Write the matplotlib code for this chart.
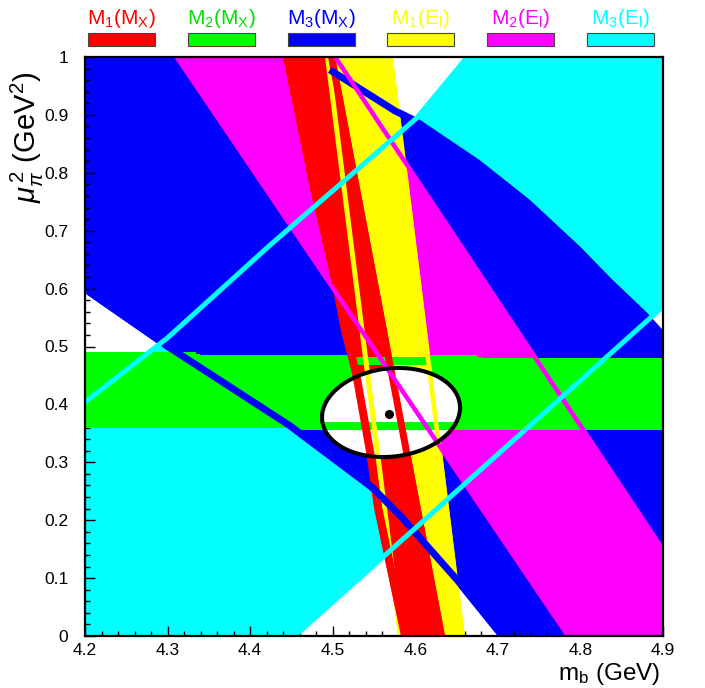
import numpy as np
import matplotlib
matplotlib.use('Agg')
import matplotlib.pyplot as plt
from matplotlib.patches import Polygon, Rectangle
from matplotlib.ticker import MultipleLocator, FixedLocator, FixedFormatter
from matplotlib.transforms import offset_copy

plt.rcParams['font.family'] = ['Liberation Sans', 'DejaVu Sans']
plt.rcParams['mathtext.fontset'] = 'custom'
plt.rcParams['mathtext.rm'] = 'Liberation Sans'
plt.rcParams['mathtext.it'] = 'Liberation Sans:italic'

# ---------------- data (mb in GeV, mu_pi^2 in GeV^2) ----------------
# M3(El) cyan band: upper-left edge and lower-right edge
m3el_a_m = [4.200, 4.300, 4.424, 4.602, 4.663]
m3el_a_mu = [0.404, 0.515, 0.675, 0.895, 1.000]
m3el_b_m = [4.454, 4.900]
m3el_b_mu = [0.000, 0.569]

# M3(Mx) blue band: upper-right edge and lower-left edge
m3mx_c_m = [4.499, 4.578, 4.602, 4.678, 4.739, 4.800, 4.839, 4.881, 4.900]
m3mx_c_mu = [0.983, 0.912, 0.895, 0.822, 0.753, 0.672, 0.615, 0.558, 0.528]
m3mx_d_m = [4.200, 4.299, 4.445, 4.545, 4.581, 4.648, 4.700]
m3mx_d_mu = [0.592, 0.494, 0.359, 0.252, 0.200, 0.092, 0.000]

# M2(El) magenta band: left and right edges
m2el_l_m = [4.311, 4.785]
m2el_l_mu = [1.000, 0.000]
m2el_r_m = [4.503, 4.900]
m2el_r_mu = [1.000, 0.149]

# M2(Mx) green band: top and bottom edges
m2mx_t_m = [4.200, 4.334, 4.334, 4.675, 4.675, 4.900]
m2mx_t_mu = [0.490, 0.490, 0.485, 0.485, 0.480, 0.480]
m2mx_b_m = [4.200, 4.457, 4.457, 4.900]
m2mx_b_mu = [0.360, 0.360, 0.356, 0.356]

# M1(El) yellow band: left and right edges
m1el_l_m = [4.4907, 4.5792]
m1el_l_mu = [1.000, 0.000]
m1el_r_m = [4.5730, 4.6602]
m1el_r_mu = [1.000, 0.000]

# M1(Mx) red band: left and right edges
m1mx_l_m = [4.4398, 4.4725, 4.4991, 4.5100, 4.5234, 4.5415, 4.5500, 4.5827]
m1mx_l_mu = [1.000, 0.7737, 0.6097, 0.5285, 0.4542, 0.3092, 0.2228, 0.000]
m1mx_r_m = [4.5028, 4.6360]
m1mx_r_mu = [1.000, 0.000]

# fit result: central value and 1-sigma ellipse
fit_mb, fit_mu = 4.568, 0.3834
ell_mb, ell_mu = 4.5706, 0.386
ell_smb, ell_smu, ell_rho = 0.0836, 0.0769, 0.11

legend_labels = [r'$\mathregular{M_1(M_X)}$', r'$\mathregular{M_2(M_X)}$', r'$\mathregular{M_3(M_X)}$',
                 r'$\mathregular{M_1(E_l)}$', r'$\mathregular{M_2(E_l)}$', r'$\mathregular{M_3(E_l)}$']
legend_colors = ['#ff0000', '#00ff00', '#0000ff', '#ffff00', '#ff00ff', '#00ffff']
legend_text_colors = ['#ff0000', '#00e000', '#0000ff', '#ffff00', '#ff00ff', '#00ffff']

xticks = [4.2, 4.3, 4.4, 4.5, 4.6, 4.7, 4.8, 4.9]
xticklabels = ['4.2', '4.3', '4.4', '4.5', '4.6', '4.7', '4.8', '4.9']
yticks = [0, 0.1, 0.2, 0.3, 0.4, 0.5, 0.6, 0.7, 0.8, 0.9, 1.0]
yticklabels = ['0', '0.1', '0.2', '0.3', '0.4', '0.5', '0.6', '0.7', '0.8', '0.9', '1']

XMIN, XMAX, YMIN, YMAX = 4.2, 4.9, 0.0, 1.0

# ---------------- figure ----------------
W, H = 705, 688
fig = plt.figure(figsize=(W / 100, H / 100), dpi=100)
ax = fig.add_axes([85 / W, 52 / H, 578 / W, 579 / H])
ax.set_xlim(XMIN, XMAX)
ax.set_ylim(YMIN, YMAX)


def pts(ms, mus):
    return list(zip(ms, mus))


def fill(poly, color, z):
    ax.add_patch(Polygon(poly, closed=True, facecolor=color, edgecolor='none', zorder=z))


# cyan band: between A and B
cyan_poly = pts(m3el_a_m, m3el_a_mu) + [(XMAX, YMAX)] + pts(m3el_b_m[::-1], m3el_b_mu[::-1]) + [(XMIN, YMIN)]
fill(cyan_poly, '#00ffff', 1)

# blue band: between C and D
blue_poly = [(XMIN, YMAX), (m3mx_c_m[0], YMAX)] + pts(m3mx_c_m, m3mx_c_mu) + [(XMAX, YMIN)] + \
    pts(m3mx_d_m[::-1], m3mx_d_mu[::-1])
fill(blue_poly, '#0000ff', 2)

# magenta band
mag_poly = pts(m2el_l_m, m2el_l_mu)[:1] + pts(m2el_r_m, m2el_r_mu) + [(XMAX, YMIN)] + pts(m2el_l_m, m2el_l_mu)[1:]
fill(mag_poly, '#ff00ff', 3)

# green band
green_poly = pts(m2mx_t_m, m2mx_t_mu) + pts(m2mx_b_m[::-1], m2mx_b_mu[::-1])
fill(green_poly, '#00ff00', 4)

# yellow band
yel_poly = pts(m1el_l_m, m1el_l_mu) + pts(m1el_r_m[::-1], m1el_r_mu[::-1])
fill(yel_poly, '#ffff00', 5)

# red band
red_poly = pts(m1mx_l_m, m1mx_l_mu) + pts(m1mx_r_m[::-1], m1mx_r_mu[::-1])
fill(red_poly, '#ff0000', 6)

# ellipse (white interior)
t = np.linspace(0, 2 * np.pi, 400)
ex = ell_mb + ell_smb * np.cos(t)
ey = ell_mu + ell_smu * (ell_rho * np.cos(t) + np.sqrt(1 - ell_rho ** 2) * np.sin(t))
ax.fill(ex, ey, color='white', zorder=7, lw=0)


# band edge strips drawn on top
def strip(ms, mus, color, wpx, dx=0.0, dy=0.0, z=8):
    tr = offset_copy(ax.transData, fig=fig, x=dx, y=dy, units='dots')
    ax.plot(ms, mus, color=color, lw=wpx * 0.72, transform=tr, solid_capstyle='butt',
            solid_joinstyle='miter', zorder=z)


strip(m2mx_t_m, m2mx_t_mu, '#00ff00', 8, dy=-6, z=8)
strip(m2mx_b_m, m2mx_b_mu, '#00ff00', 8, dy=4, z=8)
strip(m1el_l_m, m1el_l_mu, '#ffff00', 5, dx=2.5, z=9)
strip(m1el_r_m, m1el_r_mu, '#ffff00', 4.5, dx=-2.5, z=9)
strip(m1mx_l_m, m1mx_l_mu, '#ff0000', 8, dx=4, z=10)
strip(m1mx_r_m, m1mx_r_mu, '#ff0000', 7, dx=-3.5, z=10)
strip(m3mx_d_m, m3mx_d_mu, '#0000ff', 7, dx=2.5, dy=2.5, z=11)
strip(m3mx_c_m[:3], m3mx_c_mu[:3], '#0000ff', 7, dx=-2, dy=-3, z=11)
strip(m2el_l_m, m2el_l_mu, '#ff00ff', 4.5, z=12)
strip(m2el_r_m, m2el_r_mu, '#ff00ff', 4.5, z=12)
strip(m3el_a_m, m3el_a_mu, '#00ffff', 5, z=13)
strip(m3el_b_m, m3el_b_mu, '#00ffff', 5, z=13)

# ellipse outline and central value
ax.plot(ex, ey, color='black', lw=2.9, zorder=14)
ax.plot([fit_mb], [fit_mu], 'o', color='black', ms=5.5, zorder=15)

# axes styling
for s in ax.spines.values():
    s.set_linewidth(1.6)
    s.set_zorder(20)
ax.xaxis.set_major_locator(FixedLocator(xticks))
ax.xaxis.set_major_formatter(FixedFormatter(xticklabels))
ax.xaxis.set_minor_locator(MultipleLocator(0.02))
ax.yaxis.set_major_locator(FixedLocator(yticks))
ax.yaxis.set_major_formatter(FixedFormatter(yticklabels))
ax.yaxis.set_minor_locator(MultipleLocator(0.02))
ax.tick_params(which='both', direction='in', top=False, right=False, width=1, zorder=21)
ax.tick_params(which='major', length=7.2)
ax.tick_params(which='minor', length=3.6)
ax.tick_params(axis='x', which='major', pad=5, labelsize=12.5)
ax.tick_params(axis='y', which='major', pad=12, labelsize=12.5)
ax.set_axisbelow(False)

fig.text(660 / W, 1 - 680 / H, r'$\mathregular{m_b}$ (GeV)', ha='right', va='baseline', fontsize=17.5)
fig.text(27 / W, 1 - 72 / H, r'$\mu_\pi^{\,2}$ (GeV$^{\mathregular{2}}$)', ha='center', va='top',
         rotation=90, fontsize=21)

# legend on top
rect_x = [88, 188, 288, 387, 487, 587]
for lab, c, tc, x0 in zip(legend_labels, legend_colors, legend_text_colors, rect_x):
    fig.add_artist(Rectangle((x0 / W, 1 - 46 / H), 67 / W, 13 / H, transform=fig.transFigure,
                             facecolor=c, edgecolor='#444444', lw=0.8))
    fig.text((x0 + 33.5) / W, 1 - 18 / H, lab, color=tc, ha='center', va='center', fontsize=15)

fig.savefig('out.png', dpi=100)
